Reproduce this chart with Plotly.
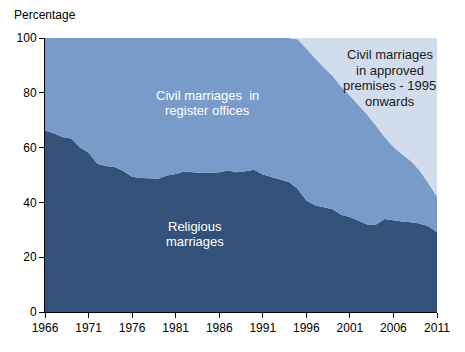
import plotly.graph_objects as go

years = list(range(1966, 2012))

religious = [66.2, 65.2, 63.9, 63.3, 60.1, 58.1, 54.1, 53.3, 52.9, 51.5,
             49.4, 48.9, 48.8, 48.6, 49.8, 50.4, 51.3, 51.0, 50.7, 50.8,
             51.0, 51.6, 51.0, 51.4, 51.9, 50.2, 49.2, 48.4, 47.4, 45.0,
             40.7, 39.0, 38.3, 37.5, 35.5, 34.7, 33.3, 31.9, 31.9, 33.9,
             33.5, 33.0, 32.8, 32.3, 31.3, 29.2]

approved_premises = [0.0] * 29 + [0.5, 4.0, 7.5, 10.8, 13.8, 17.8, 21.0, 24.4,
                                  28.0, 32.0, 36.2, 39.7, 42.5, 44.9, 48.4, 52.9, 57.9]

register_office = [round(100 - r - a, 1) for r, a in zip(religious, approved_premises)]

x_ticks = list(range(1966, 2012, 5))
y_ticks = [0, 20, 40, 60, 80, 100]

# label lines: (text, x, y, colour)
label_lines = [
    ("Civil marriages  in", 1984.7, 78.9, "white"),
    ("register offices", 1984.7, 73.4, "white"),
    ("Religious", 1983.2, 31.1, "white"),
    ("marriages", 1983.2, 25.9, "white"),
    ("Civil marriages", 2005.6, 93.8, "#1a1a1a"),
    ("in approved", 2005.6, 88.3, "#1a1a1a"),
    ("premises - 1995", 2005.6, 82.6, "#1a1a1a"),
    ("onwards", 2005.6, 77.0, "#1a1a1a"),
]

FONT = "Liberation Sans, Arial, sans-serif"

fig = go.Figure()
fig.add_trace(go.Scatter(x=years, y=religious, stackgroup="one", mode="lines",
                         line=dict(width=0, color="#33527A"), fillcolor="#33527A",
                         name="Religious marriages"))
fig.add_trace(go.Scatter(x=years, y=register_office, stackgroup="one", mode="lines",
                         line=dict(width=0, color="#789BC9"), fillcolor="#789BC9",
                         name="Civil marriages in register offices"))
fig.add_trace(go.Scatter(x=years, y=approved_premises, stackgroup="one", mode="lines",
                         line=dict(width=0, color="#D1DCEC"), fillcolor="#D1DCEC",
                         name="Civil marriages in approved premises"))

annotations = [
    dict(text="Percentage", xref="paper", yref="paper", x=-0.083, y=1.05,
         xanchor="left", yanchor="bottom", showarrow=False,
         font=dict(size=12, color="#000000")),
]
for txt, lx, ly, col in label_lines:
    annotations.append(dict(text=txt, xref="x", yref="y", x=lx, y=ly,
                            xanchor="center", yanchor="middle", showarrow=False,
                            font=dict(size=13, color=col)))

fig.update_layout(
    width=465, height=352,
    margin=dict(l=45, r=28, t=38, b=40),
    paper_bgcolor="white", plot_bgcolor="white",
    showlegend=False,
    font=dict(family=FONT, size=12, color="#000000"),
    xaxis=dict(range=[1966, 2011], tickvals=x_ticks, ticks="outside", ticklen=5,
               tickcolor="black", showline=True, linecolor="black", linewidth=1,
               showgrid=False, zeroline=False, tickfont=dict(size=12)),
    yaxis=dict(range=[0, 100], tickvals=y_ticks, ticks="outside", ticklen=5,
               tickcolor="black", showline=True, linecolor="black", linewidth=1,
               showgrid=False, zeroline=False, tickfont=dict(size=12)),
    annotations=annotations,
)

fig.write_html("out.html")
